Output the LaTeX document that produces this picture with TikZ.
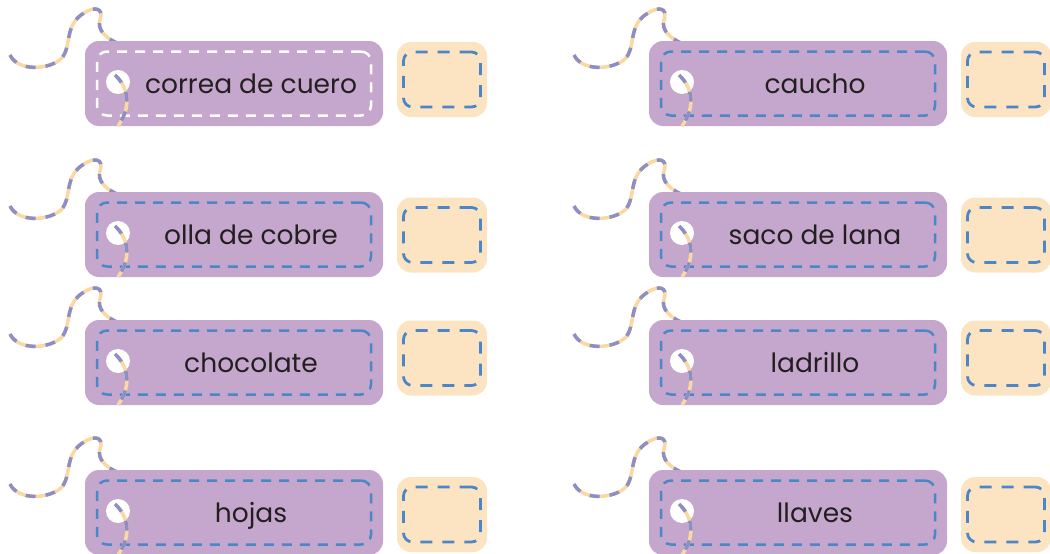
\documentclass[tikz,border=0pt]{standalone}
\usepackage{fontspec}
\setmainfont{Poppins}
\usepackage{xcolor}

\definecolor{tagpurple}{HTML}{C5A7CD}
\definecolor{boxpeach}{HTML}{FCE3C1}
\definecolor{stitchblue}{HTML}{4B86C6}
\definecolor{cordblue}{HTML}{8E8EC6}
\definecolor{cordpeach}{HTML}{FAD8A2}
\definecolor{inkdark}{HTML}{231F20}

\tikzset{
  tag/.style={fill=tagpurple, rounded corners=14pt, minimum width=298pt, minimum height=85pt, inner sep=0pt},
  tagstitch/.style={draw=#1, dash pattern=on 10pt off 8pt, line width=2.5pt, rounded corners=10pt, minimum width=274pt, minimum height=64pt, inner sep=0pt},
  hole/.style={circle, fill=white, minimum size=24pt, inner sep=0pt},
  word/.style={text=inkdark, font=\fontsize{26.5}{30}\selectfont, inner sep=0pt, anchor=base},
  answer/.style={fill=boxpeach, rounded corners=14pt, minimum width=90pt, minimum height=75pt, inner sep=0pt},
  answerstitch/.style={draw=stitchblue, dash pattern=on 12pt off 10pt, line width=2.8pt, rounded corners=9pt, minimum width=77pt, minimum height=55pt, inner sep=0pt},
  cordbase/.style={draw=cordpeach, line width=3.5pt},
  cordtop/.style={draw=cordblue, line width=3.5pt, dash pattern=on 10pt off 10pt},
}

\begin{document}
\begin{tikzpicture}[x=1pt, y=-1pt]
\useasboundingbox (0,0) rectangle (1050,554);
\foreach \n/\dx/\top/\ans/\stitch/\word in {
  1/0/41/38.5/white/correa de cuero,
  2/0/192/43/stitchblue/olla de cobre,
  3/0/320/38/stitchblue/chocolate,
  4/0/470/44.5/stitchblue/hojas,
  5/564/41/38.5/stitchblue/caucho,
  6/564/192/43/stitchblue/saco de lana,
  7/564/320/38/stitchblue/ladrillo,
  8/564/470/44.5/stitchblue/llaves} {
  \begin{scope}[shift={(\dx,\top)}]
    % cord over the top of the tag
    \path[cordbase] (10,14) .. controls (18,31) and (50,29) .. (62,17) .. controls (72,4) and (64,-16) .. (84,-28) .. controls (95,-35) and (104,-33) .. (100,-21) .. controls (97,-11) and (106,-3) .. (117,2);
    \path[cordtop] (10,14) .. controls (18,31) and (50,29) .. (62,17) .. controls (72,4) and (64,-16) .. (84,-28) .. controls (95,-35) and (104,-33) .. (100,-21) .. controls (97,-11) and (106,-3) .. (117,2);
    \node[tag] (tag\n) at (234,42.5) {};
    \node[tagstitch=\stitch] (seam\n) at (234,42.5) {};
    \node[hole] (hole\n) at (118,41) {};
    \node[word] (word\n) at (251,52) {\word};
    % cord through the hole
    \path[cordbase] (115,34) .. controls (127,45) and (133,64) .. (118,85);
    \path[cordtop] (115,34) .. controls (127,45) and (133,64) .. (118,85);
    \node[answer] (box\n) at (442,\ans) {};
    \node[answerstitch] (boxseam\n) at (442,\ans) {};
  \end{scope}
}
\end{tikzpicture}
\end{document}
